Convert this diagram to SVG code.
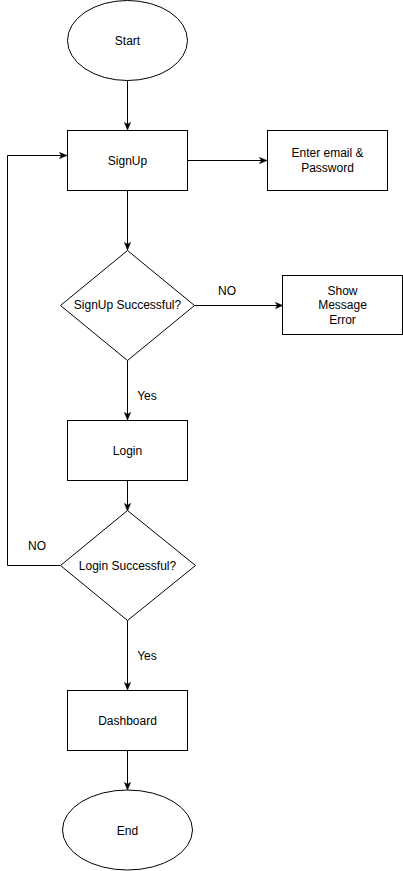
<svg xmlns="http://www.w3.org/2000/svg" width="403" height="871" viewBox="0 0 403 871">
<style>
.s{fill:#fff;stroke:#000;stroke-width:1}
.t{font-family:"Liberation Sans",Arial,sans-serif;font-size:12px;fill:#000;text-anchor:middle;dominant-baseline:central}
.c{fill:none;stroke:#000;stroke-width:1}
</style>
<defs>
<marker id="a" viewBox="0 0 10 10" refX="9" refY="5" markerWidth="8" markerHeight="8" markerUnits="userSpaceOnUse" orient="auto">
<path d="M0,1 L10,5 L0,9 L2.5,5 Z" fill="#000" stroke="#000" stroke-width="0.5"/>
</marker>
</defs>
<rect width="403" height="871" fill="#fff"/>
<g id="connectors">
<path class="c" d="M127.5,80.5 V129.5" marker-end="url(#a)"/>
<path class="c" d="M187.5,160.5 H266.5" marker-end="url(#a)"/>
<path class="c" d="M127.5,190.5 V249.5" marker-end="url(#a)"/>
<path class="c" d="M194.5,305.5 H282.5" marker-end="url(#a)"/>
<text class="t" x="227" y="291">NO</text>
<path class="c" d="M127.5,360.5 V419.5" marker-end="url(#a)"/>
<text class="t" x="147" y="396">Yes</text>
<path class="c" d="M127.5,480.5 V510.5" marker-end="url(#a)"/>
<path class="c" d="M60.5,565.5 H7.5 V155.5 H66.5" marker-end="url(#a)"/>
<text class="t" x="37" y="546">NO</text>
<path class="c" d="M127.5,620.5 V689.5" marker-end="url(#a)"/>
<text class="t" x="147" y="656">Yes</text>
<path class="c" d="M127.5,750.5 V789.5" marker-end="url(#a)"/>
</g>
<g id="start">
<ellipse class="s" cx="127.5" cy="40.5" rx="60" ry="40"/>
<text class="t" x="127.5" y="41">Start</text>
</g>
<g id="signup">
<rect class="s" x="67.5" y="130.5" width="120" height="60"/>
<text class="t" x="127.5" y="161">SignUp</text>
</g>
<g id="enter">
<rect class="s" x="267.5" y="130.5" width="120" height="60"/>
<text class="t" x="327.5" y="153">Enter email &amp;</text>
<text class="t" x="327.5" y="168">Password</text>
</g>
<g id="signupok">
<path class="s" d="M127.5,250.5 L194.5,305.5 L127.5,360.5 L60.5,305.5 Z"/>
<text class="t" x="127.5" y="305">SignUp Successful?</text>
</g>
<g id="error">
<rect class="s" x="282.5" y="275.5" width="120" height="59"/>
<text class="t" x="342.5" y="291">Show</text>
<text class="t" x="342.5" y="305">Message</text>
<text class="t" x="342.5" y="320">Error</text>
</g>
<g id="login">
<rect class="s" x="67.5" y="420.5" width="120" height="60"/>
<text class="t" x="127.5" y="451">Login</text>
</g>
<g id="loginok">
<path class="s" d="M127.5,510.5 L195.5,565.5 L127.5,620.5 L60.5,565.5 Z"/>
<text class="t" x="127.5" y="566">Login Successful?</text>
</g>
<g id="dashboard">
<rect class="s" x="67.5" y="690.5" width="120" height="60"/>
<text class="t" x="127.5" y="721">Dashboard</text>
</g>
<g id="end">
<ellipse class="s" cx="127.5" cy="830" rx="65" ry="40"/>
<text class="t" x="127.5" y="831">End</text>
</g>
</svg>
